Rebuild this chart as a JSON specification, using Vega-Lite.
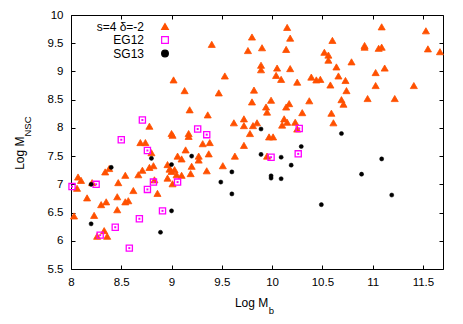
{
  "$schema": "https://vega.github.io/schema/vega-lite/v6.json",
  "width": 372,
  "height": 254,
  "autosize": "none",
  "padding": {"left": 71, "top": 15, "right": 20, "bottom": 55},
  "background": "white",
  "config": {
    "font": "Liberation Sans",
    "view": {"stroke": "black", "strokeWidth": 1},
    "axis": {
      "grid": false, "domain": false, "tickColor": "black", "tickSize": -4, "tickWidth": 1,
      "labelFont": "Liberation Sans", "labelFontSize": 11.5, "labelColor": "black",
      "titleFont": "Liberation Sans", "titleFontWeight": "normal", "titleColor": "black", "titleFontSize": 12
    },
    "legend": {"orient": "none", "legendX": 88, "legendY": 5.5, "padding": 0,
               "labelAlign": "right", "labelOffset": -27, "labelFontSize": 12, "labelColor": "black",
               "labelFont": "Liberation Sans", "rowPadding": 1.5, "symbolSize": 45, "symbolStrokeWidth": 1.2}
  },
  "datasets": {
    "pts": [
      {"x":9.02,"y":8.85,"s":"s=4 δ=-2"},{"x":9.13,"y":8.66,"s":"s=4 δ=-2"},{"x":9.18,"y":8.32,"s":"s=4 δ=-2"},{"x":8.78,"y":8.03,"s":"s=4 δ=-2"},
      {"x":9.00,"y":7.90,"s":"s=4 δ=-2"},{"x":9.01,"y":7.87,"s":"s=4 δ=-2"},{"x":9.17,"y":7.90,"s":"s=4 δ=-2"},{"x":9.17,"y":7.85,"s":"s=4 δ=-2"},
      {"x":10.15,"y":9.78,"s":"s=4 δ=-2"},{"x":9.80,"y":9.61,"s":"s=4 δ=-2"},{"x":10.18,"y":9.59,"s":"s=4 δ=-2"},{"x":9.40,"y":9.48,"s":"s=4 δ=-2"},
      {"x":9.76,"y":9.37,"s":"s=4 δ=-2"},{"x":9.90,"y":9.42,"s":"s=4 δ=-2"},{"x":10.14,"y":9.39,"s":"s=4 δ=-2"},{"x":9.89,"y":9.11,"s":"s=4 δ=-2"},
      {"x":9.89,"y":9.03,"s":"s=4 δ=-2"},{"x":10.05,"y":9.06,"s":"s=4 δ=-2"},{"x":10.18,"y":9.05,"s":"s=4 δ=-2"},{"x":9.53,"y":8.92,"s":"s=4 δ=-2"},
      {"x":10.04,"y":8.93,"s":"s=4 δ=-2"},{"x":10.09,"y":8.86,"s":"s=4 δ=-2"},{"x":10.25,"y":8.81,"s":"s=4 δ=-2"},{"x":10.39,"y":8.90,"s":"s=4 δ=-2"},
      {"x":10.44,"y":8.85,"s":"s=4 δ=-2"},{"x":10.48,"y":8.86,"s":"s=4 δ=-2"},{"x":9.47,"y":8.62,"s":"s=4 δ=-2"},{"x":9.82,"y":8.67,"s":"s=4 δ=-2"},
      {"x":9.80,"y":8.46,"s":"s=4 δ=-2"},{"x":9.99,"y":8.49,"s":"s=4 δ=-2"},{"x":10.37,"y":8.48,"s":"s=4 δ=-2"},{"x":9.94,"y":8.37,"s":"s=4 δ=-2"},
      {"x":10.17,"y":8.43,"s":"s=4 δ=-2"},{"x":10.14,"y":8.37,"s":"s=4 δ=-2"},{"x":9.95,"y":8.28,"s":"s=4 δ=-2"},{"x":10.30,"y":8.27,"s":"s=4 δ=-2"},
      {"x":9.36,"y":8.23,"s":"s=4 δ=-2"},{"x":9.62,"y":8.09,"s":"s=4 δ=-2"},{"x":9.72,"y":8.16,"s":"s=4 δ=-2"},{"x":9.72,"y":8.04,"s":"s=4 δ=-2"},
      {"x":9.81,"y":8.04,"s":"s=4 δ=-2"},{"x":9.85,"y":8.09,"s":"s=4 δ=-2"},{"x":9.78,"y":7.90,"s":"s=4 δ=-2"},{"x":10.12,"y":8.16,"s":"s=4 δ=-2"},
      {"x":10.15,"y":8.10,"s":"s=4 δ=-2"},{"x":10.10,"y":8.05,"s":"s=4 δ=-2"},{"x":10.23,"y":8.10,"s":"s=4 δ=-2"},{"x":10.25,"y":7.98,"s":"s=4 δ=-2"},
      {"x":9.97,"y":7.84,"s":"s=4 δ=-2"},{"x":10.01,"y":7.84,"s":"s=4 δ=-2"},{"x":11.09,"y":9.79,"s":"s=4 δ=-2"},{"x":11.53,"y":9.72,"s":"s=4 δ=-2"},
      {"x":10.60,"y":9.55,"s":"s=4 δ=-2"},{"x":10.92,"y":9.46,"s":"s=4 δ=-2"},{"x":10.92,"y":9.43,"s":"s=4 δ=-2"},{"x":11.06,"y":9.41,"s":"s=4 δ=-2"},
      {"x":11.09,"y":9.43,"s":"s=4 δ=-2"},{"x":11.55,"y":9.40,"s":"s=4 δ=-2"},{"x":11.67,"y":9.35,"s":"s=4 δ=-2"},{"x":10.52,"y":9.34,"s":"s=4 δ=-2"},
      {"x":10.56,"y":9.29,"s":"s=4 δ=-2"},{"x":10.56,"y":9.20,"s":"s=4 δ=-2"},{"x":10.79,"y":9.17,"s":"s=4 δ=-2"},{"x":10.64,"y":9.08,"s":"s=4 δ=-2"},
      {"x":11.03,"y":8.98,"s":"s=4 δ=-2"},{"x":11.12,"y":9.06,"s":"s=4 δ=-2"},{"x":10.66,"y":8.92,"s":"s=4 δ=-2"},{"x":10.73,"y":8.84,"s":"s=4 δ=-2"},
      {"x":10.58,"y":8.76,"s":"s=4 δ=-2"},{"x":11.03,"y":8.75,"s":"s=4 δ=-2"},{"x":11.41,"y":8.75,"s":"s=4 δ=-2"},{"x":10.74,"y":8.66,"s":"s=4 δ=-2"},
      {"x":10.69,"y":8.50,"s":"s=4 δ=-2"},{"x":10.71,"y":8.42,"s":"s=4 δ=-2"},{"x":10.95,"y":8.52,"s":"s=4 δ=-2"},{"x":11.22,"y":8.52,"s":"s=4 δ=-2"},
      {"x":10.59,"y":8.26,"s":"s=4 δ=-2"},{"x":10.61,"y":8.09,"s":"s=4 δ=-2"},{"x":8.69,"y":7.74,"s":"s=4 δ=-2"},{"x":8.74,"y":7.74,"s":"s=4 δ=-2"},
      {"x":8.80,"y":7.56,"s":"s=4 δ=-2"},{"x":8.38,"y":7.28,"s":"s=4 δ=-2"},{"x":8.34,"y":7.22,"s":"s=4 δ=-2"},{"x":8.96,"y":7.35,"s":"s=4 δ=-2"},
      {"x":9.06,"y":7.50,"s":"s=4 δ=-2"},{"x":9.10,"y":7.45,"s":"s=4 δ=-2"},{"x":9.14,"y":7.61,"s":"s=4 δ=-2"},{"x":9.20,"y":7.32,"s":"s=4 δ=-2"},
      {"x":9.27,"y":7.50,"s":"s=4 δ=-2"},{"x":9.27,"y":7.43,"s":"s=4 δ=-2"},{"x":8.98,"y":7.27,"s":"s=4 δ=-2"},{"x":9.00,"y":7.23,"s":"s=4 δ=-2"},
      {"x":9.03,"y":7.26,"s":"s=4 δ=-2"},{"x":8.96,"y":7.11,"s":"s=4 δ=-2"},{"x":9.05,"y":7.17,"s":"s=4 δ=-2"},{"x":9.10,"y":7.16,"s":"s=4 δ=-2"},
      {"x":9.01,"y":7.01,"s":"s=4 δ=-2"},{"x":9.19,"y":7.19,"s":"s=4 δ=-2"},{"x":8.71,"y":7.25,"s":"s=4 δ=-2"},{"x":8.67,"y":7.17,"s":"s=4 δ=-2"},
      {"x":8.78,"y":7.30,"s":"s=4 δ=-2"},{"x":8.82,"y":7.33,"s":"s=4 δ=-2"},{"x":8.54,"y":7.16,"s":"s=4 δ=-2"},{"x":8.47,"y":7.03,"s":"s=4 δ=-2"},
      {"x":8.07,"y":7.13,"s":"s=4 δ=-2"},{"x":8.10,"y":7.07,"s":"s=4 δ=-2"},{"x":8.06,"y":6.93,"s":"s=4 δ=-2"},{"x":8.21,"y":7.03,"s":"s=4 δ=-2"},
      {"x":8.16,"y":6.76,"s":"s=4 δ=-2"},{"x":8.03,"y":6.44,"s":"s=4 δ=-2"},{"x":8.23,"y":6.45,"s":"s=4 δ=-2"},{"x":8.30,"y":6.64,"s":"s=4 δ=-2"},
      {"x":8.35,"y":6.69,"s":"s=4 δ=-2"},{"x":8.46,"y":6.78,"s":"s=4 δ=-2"},{"x":8.46,"y":6.55,"s":"s=4 δ=-2"},{"x":8.54,"y":6.69,"s":"s=4 δ=-2"},
      {"x":8.57,"y":6.71,"s":"s=4 δ=-2"},{"x":8.62,"y":6.89,"s":"s=4 δ=-2"},{"x":8.83,"y":7.08,"s":"s=4 δ=-2"},{"x":8.86,"y":6.84,"s":"s=4 δ=-2"},
      {"x":8.33,"y":6.18,"s":"s=4 δ=-2"},{"x":8.26,"y":6.08,"s":"s=4 δ=-2"},{"x":8.36,"y":6.08,"s":"s=4 δ=-2"},{"x":9.31,"y":7.72,"s":"s=4 δ=-2"},
      {"x":9.38,"y":7.74,"s":"s=4 δ=-2"},{"x":9.37,"y":7.54,"s":"s=4 δ=-2"},{"x":9.35,"y":7.24,"s":"s=4 δ=-2"},{"x":9.51,"y":7.33,"s":"s=4 δ=-2"},
      {"x":9.63,"y":7.50,"s":"s=4 δ=-2"},{"x":9.72,"y":7.69,"s":"s=4 δ=-2"},{"x":9.95,"y":7.50,"s":"s=4 δ=-2"},
      {"x":8.71,"y":8.14,"s":"EG12"},{"x":9.26,"y":7.98,"s":"EG12"},{"x":8.50,"y":7.79,"s":"EG12"},{"x":10.27,"y":7.99,"s":"EG12"},
      {"x":9.35,"y":7.88,"s":"EG12"},{"x":8.76,"y":7.60,"s":"EG12"},{"x":8.01,"y":6.96,"s":"EG12"},{"x":8.25,"y":7.00,"s":"EG12"},
      {"x":8.76,"y":6.91,"s":"EG12"},{"x":8.82,"y":7.04,"s":"EG12"},{"x":9.06,"y":7.04,"s":"EG12"},{"x":8.91,"y":6.53,"s":"EG12"},
      {"x":8.68,"y":6.39,"s":"EG12"},{"x":8.44,"y":6.24,"s":"EG12"},{"x":8.29,"y":6.10,"s":"EG12"},{"x":8.58,"y":5.87,"s":"EG12"},
      {"x":9.99,"y":7.48,"s":"EG12"},{"x":10.26,"y":7.54,"s":"EG12"},
      {"x":9.89,"y":7.98,"s":"SG13"},{"x":10.69,"y":7.90,"s":"SG13"},{"x":8.80,"y":7.46,"s":"SG13"},{"x":8.40,"y":7.30,"s":"SG13"},
      {"x":9.00,"y":7.35,"s":"SG13"},{"x":9.20,"y":7.50,"s":"SG13"},{"x":8.20,"y":7.00,"s":"SG13"},{"x":8.20,"y":6.30,"s":"SG13"},
      {"x":9.00,"y":6.53,"s":"SG13"},{"x":8.89,"y":6.15,"s":"SG13"},{"x":9.60,"y":7.22,"s":"SG13"},{"x":9.49,"y":7.04,"s":"SG13"},
      {"x":9.60,"y":6.83,"s":"SG13"},{"x":9.89,"y":7.53,"s":"SG13"},{"x":10.09,"y":7.48,"s":"SG13"},{"x":9.99,"y":7.15,"s":"SG13"},
      {"x":9.99,"y":7.11,"s":"SG13"},{"x":10.09,"y":7.10,"s":"SG13"},{"x":10.19,"y":7.34,"s":"SG13"},{"x":10.29,"y":7.67,"s":"SG13"},
      {"x":11.09,"y":7.45,"s":"SG13"},{"x":10.89,"y":7.18,"s":"SG13"},{"x":11.19,"y":6.81,"s":"SG13"},{"x":10.49,"y":6.64,"s":"SG13"}
    ]
  },
  "data": {"name": "pts"},
  "encoding": {
    "shape": {"field": "s", "type": "nominal", "title": null,
              "scale": {"domain": ["s=4 δ=-2", "EG12", "SG13"], "range": ["triangle-up", "square", "circle"]}},
    "fill": {"field": "s", "type": "nominal", "title": null,
             "scale": {"domain": ["s=4 δ=-2", "EG12", "SG13"], "range": ["#ff5000", "transparent", "black"]}},
    "stroke": {"field": "s", "type": "nominal", "title": null,
               "scale": {"domain": ["s=4 δ=-2", "EG12", "SG13"], "range": ["#ff5000", "#ff00ff", "black"]}}
  },
  "layer": [
    {
      "transform": [{"filter": "datum.s === 's=4 δ=-2'"}],
      "mark": {"type": "point", "opacity": 1, "strokeWidth": 0.8, "size": 50},
      "encoding": {
        "x": {"field": "x", "type": "quantitative",
              "scale": {"domain": [8, 11.7], "nice": false, "zero": false},
              "axis": {"orient": "bottom", "values": [8, 8.5, 9, 9.5, 10, 10.5, 11, 11.5], "format": "~g",
                       "labelPadding": 11, "labelFlush": false,
                       "title": "Log M", "titleAlign": "right", "titleBaseline": "alphabetic", "titleAngle": 0,
                       "titleX": 196.8, "titleY": 37.3}},
        "y": {"field": "y", "type": "quantitative",
              "scale": {"domain": [5.5, 10], "nice": false, "zero": false},
              "axis": {"orient": "left", "values": [5.5, 6, 6.5, 7, 7.5, 8, 8.5, 9, 9.5, 10], "format": "~g",
                       "labelPadding": 12, "labelFlush": false,
                       "title": "Log M", "titleAngle": 270, "titleAlign": "right", "titleBaseline": "alphabetic",
                       "titleX": -47.3, "titleY": 121}}
      }
    },
    {
      "transform": [{"filter": "datum.s === 'EG12'"}],
      "mark": {"type": "point", "opacity": 1, "strokeWidth": 1.3, "size": 38},
      "encoding": {
        "x": {"field": "x", "type": "quantitative", "axis": null},
        "y": {"field": "y", "type": "quantitative", "axis": null}
      }
    },
    {
      "transform": [{"filter": "datum.s === 'SG13'"}],
      "mark": {"type": "point", "opacity": 1, "strokeWidth": 0.5, "size": 17},
      "encoding": {
        "x": {"field": "x", "type": "quantitative", "axis": null},
        "y": {"field": "y", "type": "quantitative", "axis": null}
      }
    },
    {
      "transform": [{"filter": "datum.s === 'EG12'"}],
      "mark": {"type": "square", "opacity": 1, "size": 4, "color": "#ff00ff"},
      "encoding": {
        "shape": null, "fill": null, "stroke": null,
        "x": {"field": "x", "type": "quantitative",
              "axis": {"orient": "top", "values": [8, 8.5, 9, 9.5, 10, 10.5, 11, 11.5], "labels": false,
                       "title": "b", "titleFontSize": 9.5, "titleAlign": "left", "titleBaseline": "alphabetic", "titleAngle": 0,
                       "titleX": 197.3, "titleY": 298.3}},
        "y": {"field": "y", "type": "quantitative",
              "axis": {"orient": "right", "values": [5.5, 6, 6.5, 7, 7.5, 8, 8.5, 9, 9.5, 10], "labels": false,
                       "title": "NSC", "titleFontSize": 9.5, "titleAngle": 270, "titleAlign": "left", "titleBaseline": "alphabetic",
                       "titleX": -412.3, "titleY": 121}}
      }
    }
  ],
  "resolve": {"axis": {"x": "independent", "y": "independent"}}
}
